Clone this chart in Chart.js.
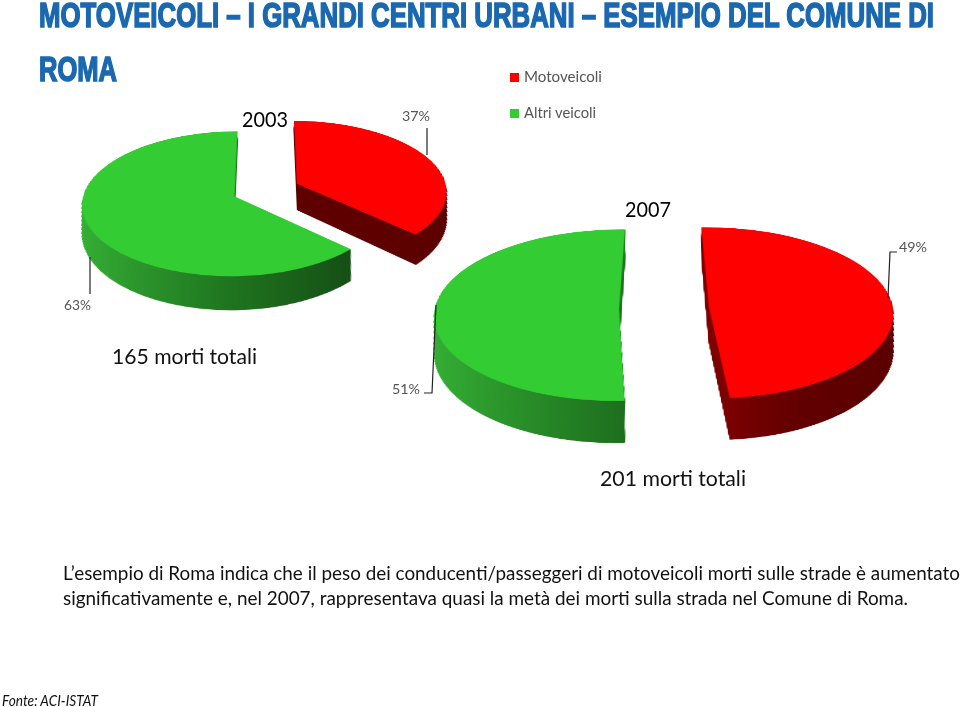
<!DOCTYPE html>
<html lang="it">
<head>
<meta charset="utf-8">
<title>Motoveicoli - Roma</title>
<script src="https://cdn.jsdelivr.net/npm/chart.js@4"></script>
<style>
  html,body{margin:0;padding:0;background:#fff;width:960px;height:707px;overflow:hidden}
  #stage{position:relative;width:960px;height:707px;overflow:hidden}
  canvas{position:absolute;transform-origin:50% 50%}
  svg{position:absolute;left:0;top:0}
</style>
</head>
<body>
<div id="stage">
  <canvas id="c2003" width="600" height="600"></canvas>
  <canvas id="c2007" width="700" height="700"></canvas>
  <svg id="ov" width="960" height="707" xmlns="http://www.w3.org/2000/svg"></svg>
</div>
<script>
// ---- data ----
const categories = ['Motoveicoli', 'Altri veicoli'];
const values2003 = [37, 63];
const values2007 = [49, 51];
const years = ['2003', '2007'];
const totals = ['165 morti totali', '201 morti totali'];
const titleLines = ['MOTOVEICOLI – I GRANDI CENTRI URBANI – ESEMPIO DEL COMUNE DI', 'ROMA'];
const bodyLines = [
  'L’esempio di Roma indica che il peso dei conducenti/passeggeri di motoveicoli morti sulle strade è aumentato',
  'significativamente e, nel 2007, rappresentava quasi la metà dei morti sulla strada nel Comune di Roma.'
];
const source = 'Fonte: ACI-ISTAT';

// ---- styles ----
const topColors = ['#ff0000', '#33cc33'];
const greenSide = [[0, '#35b035'], [0.5, '#1f741f'], [0.85, '#155015'], [1, '#145014']];
const sides2003 = [[[0, '#620000'], [1, '#5c0000']], greenSide];
const sides2007 = [[[0, '#8c0000'], [0.5, '#800000'], [0.72, '#620000'], [1, '#5a0000']], greenSide];

// Tilted, extruded pie: each slice is drawn by the library's arc element, pulled
// out from the centre, with a stack of darker copies underneath as its side wall.
// Each copy is narrowed slightly so the walls stay vertical under the CSS perspective.
const pie3d = {
  id: 'pie3d',
  beforeDatasetDraw(chart, args, opts) {
    const ctx = chart.ctx;
    const arcs = chart.getDatasetMeta(args.index).data;
    arcs.forEach((arc, k) => {
      const p = arc.getProps(['x', 'y', 'startAngle', 'endAngle', 'outerRadius']);
      const mid = (p.startAngle + p.endAngle) / 2;
      const base = arc.options;
      const g = ctx.createLinearGradient(p.x - p.outerRadius, 0, p.x + p.outerRadius, 0);
      opts.sides[k].forEach(s => g.addColorStop(s[0], s[1]));
      const turn = (opts.turn[k] || 0) * Math.PI / 180;
      const dx = Math.cos(mid) * opts.explode;
      const dy = Math.sin(mid) * opts.explode;
      const place = () => {
        ctx.translate(dx, dy);
        ctx.translate(p.x, p.y);
        ctx.rotate(turn);
        ctx.translate(-p.x, -p.y);
      };
      arc.options = Object.assign({}, base, { backgroundColor: g, borderWidth: 0 });
      for (let i = opts.depth; i >= 0.5; i -= 0.5) {
        ctx.save();
        ctx.translate(p.x, i);
        ctx.scale(1 - i * opts.narrow, 1);
        ctx.translate(-p.x, 0);
        place();
        arc.draw(ctx);
        ctx.restore();
      }
      arc.options = base;
      ctx.save();
      place();
      arc.draw(ctx);
      ctx.restore();
    });
    return false;
  }
};

function tiltedPie(id, values, cfg) {
  const cv = document.getElementById(id);
  cv.style.left = (cfg.cx - cv.width / 2) + 'px';
  cv.style.top = (cfg.cy - cv.height / 2) + 'px';
  cv.style.transform = 'perspective(' + cfg.persp + 'px) rotateX(' + cfg.tilt + 'deg)';
  return new Chart(cv, {
    type: 'pie',
    data: {
      labels: categories,
      datasets: [{ data: values, backgroundColor: topColors, borderWidth: 0, radius: cfg.radius }]
    },
    options: {
      responsive: false,
      animation: false,
      rotation: cfg.rotation,
      layout: { padding: 0 },
      events: [],
      plugins: {
        legend: { display: false },
        tooltip: { enabled: false },
        pie3d: {
          explode: cfg.explode,
          depth: cfg.depth,
          turn: cfg.turn,
          sides: cfg.sides,
          narrow: Math.sin(cfg.tilt * Math.PI / 180) / cfg.persp
        }
      }
    },
    plugins: [pie3d]
  });
}

tiltedPie('c2003', values2003, { cx: 266, cy: 189.5, tilt: 62, persp: 1312, radius: 150, rotation: 0, explode: 34, depth: 55, turn: [0, 0], sides: sides2003 });
tiltedPie('c2007', values2007, { cx: 663.5, cy: 307.5, tilt: 62.4, persp: 2341, radius: 184, rotation: -1.5, explode: 45, depth: 76, turn: [0, 2.5], sides: sides2007 });

// ---- text and leader lines ----
const ov = document.getElementById('ov');
const NS = 'http://www.w3.org/2000/svg';
function txt(s, x, y, w, size, fill, extra) {
  const t = document.createElementNS(NS, 'text');
  t.textContent = s;
  t.setAttribute('x', x);
  t.setAttribute('y', y);
  t.setAttribute('textLength', w);
  t.setAttribute('lengthAdjust', 'spacingAndGlyphs');
  t.setAttribute('font-size', size);
  t.setAttribute('font-family', 'Lato, "Open Sans", sans-serif');
  t.setAttribute('fill', fill);
  Object.entries(extra || {}).forEach(([k, v]) => t.setAttribute(k, v));
  ov.appendChild(t);
}
function leader(points) {
  const l = document.createElementNS(NS, 'polyline');
  l.setAttribute('points', points);
  l.setAttribute('fill', 'none');
  l.setAttribute('stroke', '#222');
  l.setAttribute('stroke-width', '1.2');
  ov.appendChild(l);
}
function swatch(x, y, s, color) {
  const r = document.createElementNS(NS, 'rect');
  r.setAttribute('x', x); r.setAttribute('y', y);
  r.setAttribute('width', s); r.setAttribute('height', s);
  r.setAttribute('fill', color);
  ov.appendChild(r);
}

const titleStyle = { 'font-family': '"Liberation Sans Narrow", "Liberation Sans", sans-serif', 'font-weight': 'bold', stroke: '#1a68b0', 'stroke-width': '1.6' };
txt(titleLines[0], 39, 27, 895, 35, '#1a68b0', titleStyle);
txt(titleLines[1], 39, 81, 78, 35, '#1a68b0', titleStyle);

txt(years[0], 242, 127, 46, 21.5, '#000');
txt(years[1], 625, 217, 46, 21.5, '#000');
txt(totals[0], 112, 364, 145, 21, '#111');
txt(totals[1], 600, 486, 146, 21, '#111');

txt(bodyLines[0], 63, 580, 897, 18.5, '#111');
txt(bodyLines[1], 63, 605, 845, 18.5, '#111');
txt(source, 2, 706, 96, 14.5, '#111', { 'font-style': 'italic' });

txt(values2003[0] + '%', 402, 121, 28, 14, '#555');
txt(values2003[1] + '%', 64, 310, 27, 14, '#555');
txt(values2007[0] + '%', 899, 252, 28, 14, '#555');
txt(values2007[1] + '%', 392, 394, 28, 14, '#555');
leader('427,128 427,155');
leader('90,257 90,294');
leader('897,252 890,252 888,298');
leader('436,305 432,393 424,393');

swatch(510, 73, 9, topColors[0]);
swatch(510, 109, 9, topColors[1]);
txt(categories[0], 524, 82, 78, 15, '#555');
txt(categories[1], 524, 118, 72, 15, '#555');
</script>
</body>
</html>
